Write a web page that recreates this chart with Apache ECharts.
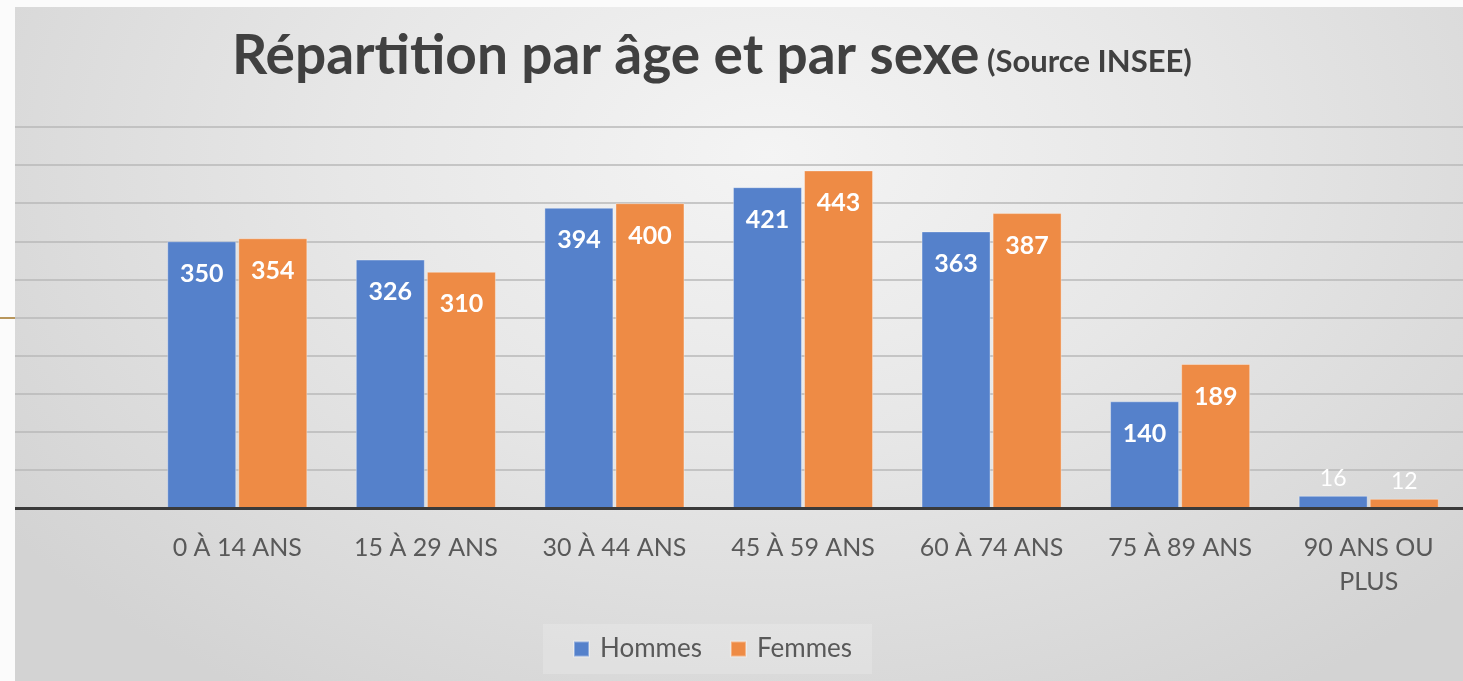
<!DOCTYPE html>
<html>
<head>
<meta charset="utf-8">
<script src="https://cdn.jsdelivr.net/npm/echarts@6/dist/echarts.min.js"></script>
<style>
  html, body { margin: 0; padding: 0; background: #fbfbfb; }
  #wrap { position: relative; width: 1463px; height: 681px; overflow: hidden; }
  #chart {
    position: absolute; left: 15px; top: 7px; width: 1448px; height: 674px;
    background: radial-gradient(ellipse 65% 95% at 52% 22%, #f4f4f4 0%, #e7e7e7 45%, #d3d3d3 100%);
  }
  #rule { position: absolute; left: 0; top: 317px; width: 15px; height: 2px; background: #b8965c; }
</style>
</head>
<body>
<div id="wrap">
  <div id="rule"></div>
  <div id="chart"></div>
</div>
<script>
const categories = ['0 À 14 ANS', '15 À 29 ANS', '30 À 44 ANS', '45 À 59 ANS', '60 À 74 ANS', '75 À 89 ANS', '90 ANS OU\nPLUS'];
const hommes = [350, 326, 394, 421, 363, 140, 16];
const femmes = [354, 310, 400, 443, 387, 189, 12];

const chart = echarts.init(document.getElementById('chart'));
const FONT = 'Lato, "Open Sans", sans-serif';

// small bars get their label above the bar, like Excel's "inside end" fallback
function barData(vals) {
  return vals.map(v => v < 50
    ? { value: v, label: { position: 'top', distance: 6, fontWeight: 'normal', fontSize: 23 } }
    : v);
}

function barSeries(name, vals, color) {
  return {
    name,
    type: 'bar',
    xAxisIndex: 1,
    yAxisIndex: 1,
    barWidth: 69,
    barGap: '3%',
    data: barData(vals),
    itemStyle: { color, borderColor: 'rgba(255,255,255,0.35)', borderWidth: 1 },
    label: {
      show: true, position: 'insideTop', distance: 20,
      color: '#fff', fontFamily: FONT, fontWeight: 'bold', fontSize: 25
    }
  };
}

chart.setOption({
  backgroundColor: 'transparent',
  animation: false,
  color: ['#5581cb', '#ee8b45'],
  title: {
    text: '{a|Répartition par âge et par sexe}{b| (Source INSEE)}',
    left: 212, top: 10,
    textStyle: {
      rich: {
        a: { fontFamily: FONT, fontWeight: 'bold', fontSize: 55, lineHeight: 62, color: '#404040', verticalAlign: 'bottom' },
        b: { fontFamily: FONT, fontWeight: 'bold', fontSize: 31, color: '#404040', verticalAlign: 'bottom', padding: [0, 0, 7, 0] }
      }
    }
  },
  legend: {
    left: 528, top: 617,
    itemWidth: 15, itemHeight: 15, itemGap: 28,
    icon: 'rect',
    padding: [12, 20, 12, 30],
    backgroundColor: 'rgba(255,255,255,0.18)',
    textStyle: { fontFamily: FONT, fontSize: 26, color: '#595959', padding: [0, 0, 0, 6] },
    data: ['Hommes', 'Femmes']
  },
  grid: [
    { left: 0, right: 0, top: 120, bottom: 173 },
    { left: 128, width: 1335, top: 120, bottom: 173 }
  ],
  xAxis: [
    {
      gridIndex: 0, type: 'value', min: 0, max: 1, z: 5,
      axisLine: { show: true, lineStyle: { color: '#3a3a3a', width: 3 } },
      axisTick: { show: false }, axisLabel: { show: false }, splitLine: { show: false }
    },
    {
      gridIndex: 1, type: 'category', data: categories,
      axisLine: { show: false }, axisTick: { show: false },
      axisLabel: {
        margin: 23, fontFamily: FONT, fontSize: 25, color: '#595959',
        lineHeight: 34, interval: 0
      }
    }
  ],
  yAxis: [
    {
      gridIndex: 0, type: 'value', min: 0, max: 500, interval: 50,
      axisLine: { show: false }, axisTick: { show: false }, axisLabel: { show: false },
      splitLine: { lineStyle: { color: '#b9b9b9', width: 1.5 } }
    },
    {
      gridIndex: 1, type: 'value', min: 0, max: 500, show: false
    }
  ],
  series: [
    barSeries('Hommes', hommes, '#5581cb'),
    barSeries('Femmes', femmes, '#ee8b45')
  ]
});

window.addEventListener('resize', () => chart.resize());
</script>
</body>
</html>
